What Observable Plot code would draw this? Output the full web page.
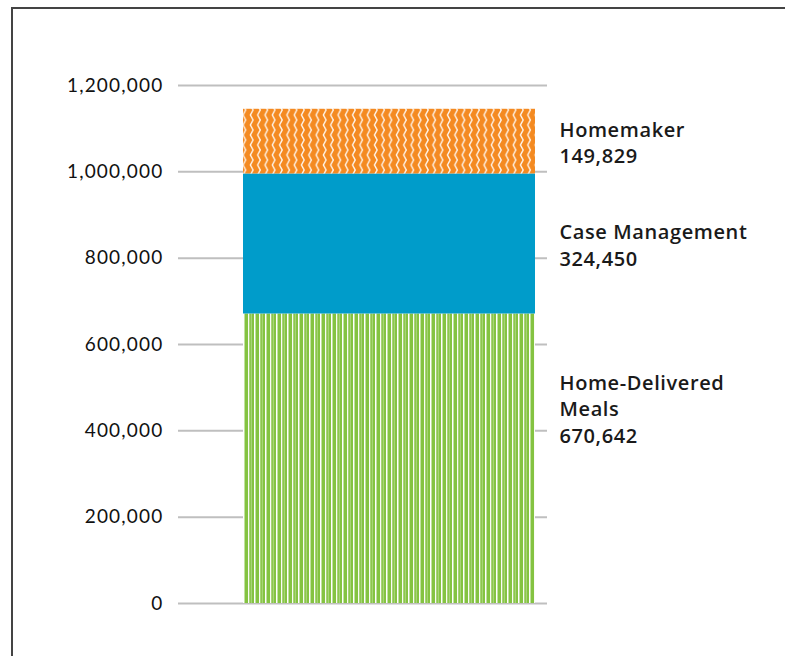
<!DOCTYPE html>
<html><head><meta charset="utf-8">
<script src="https://cdn.jsdelivr.net/npm/d3@7"></script>
<script src="https://cdn.jsdelivr.net/npm/@observablehq/plot@0.6"></script>
<style>
body{margin:0;background:#fff;}
#frame{position:absolute;left:11px;top:7px;width:800px;height:700px;border-top:2px solid #444;border-left:2px solid #444;}
#chart{position:absolute;left:0;top:0;}
.ytick text{letter-spacing:1.2px;}
.seglabel text{letter-spacing:0.6px;}
</style></head><body>
<div id="frame"></div>
<div id="chart"></div>
<script>
// ---- data ----
const categories = ["Home-Delivered Meals", "Case Management", "Homemaker"];
const labelLines = [["Home-Delivered", "Meals"], ["Case Management"], ["Homemaker"]];
const values = [670642, 324450, 149829];
const yTicks = [0, 200000, 400000, 600000, 800000, 1000000, 1200000];
const fills = ["url(#greenPat)", "#009CCA", "url(#orangePat)"];

const fmt = d3.format(",");
const data = categories.map((c, i) => ({
  group: "Total",
  category: c,
  value: values[i],
  label: [...labelLines[i], fmt(values[i])].join("\n")
}));

const textOpts = {
  x: "group", y: "value", z: "category",
  textAnchor: "start", dx: 170, lineHeight: 1.33,
  fontSize: 20, fontWeight: 600, fill: "#1a1a1a",
  fontFamily: "'Open Sans', sans-serif", className: "seglabel"
};

const svg = Plot.plot({
  width: 785, height: 656,
  marginTop: 85, marginBottom: 53, marginLeft: 178, marginRight: 238,
  style: {background: "transparent", overflow: "visible"},
  x: {domain: ["Total"], paddingInner: 0, paddingOuter: 0.1297, align: 0.842, axis: null},
  y: {domain: [0, 1200000], axis: null},
  color: {domain: categories, range: fills},
  marks: [
    Plot.ruleY(yTicks, {stroke: "#BFBFBF", strokeWidth: 2}),
    Plot.barY(data, {x: "group", y: "value", fill: "category", order: categories}),
    Plot.axisY(yTicks, {tickFormat: fmt, tickSize: 0, tickPadding: 15, fontSize: 19, fill: "#111", fontFamily: "Lato, sans-serif", label: null, className: "ytick"}),
    Plot.text(data, Plot.stackY({...textOpts, text: d => d.category === "Home-Delivered Meals" ? "" : d.label})),
    Plot.text(data, Plot.stackY({...textOpts, dy: -51, text: d => d.category === "Home-Delivered Meals" ? d.label : ""}))
  ]
});

// patterns
const defs = d3.select(svg).insert("defs", ":first-child");
const op = defs.append("pattern").attr("id", "orangePat").attr("patternUnits", "userSpaceOnUse")
  .attr("width", 7.3).attr("height", 10);
op.append("rect").attr("width", 7.3).attr("height", 10).attr("fill", "#F48A21");
op.append("polyline").attr("points", "2.2,-5 4.8,0 2.2,5 4.8,10 2.2,15")
  .attr("fill", "none").attr("stroke", "#fff").attr("stroke-opacity", 0.9).attr("stroke-width", 1.4);
const gp = defs.append("pattern").attr("id", "greenPat").attr("patternUnits", "userSpaceOnUse")
  .attr("width", 11).attr("height", 20);
gp.append("rect").attr("width", 11).attr("height", 20).attr("fill", "#84C341");
gp.append("rect").attr("x", 1).attr("width", 1.5).attr("height", 20).attr("fill", "#fff");
gp.append("rect").attr("x", 6).attr("width", 1.3).attr("height", 20).attr("fill", "#fff").attr("fill-opacity", 0.95);
gp.append("rect").attr("x", 8.8).attr("width", 1).attr("height", 20).attr("fill", "#fff").attr("fill-opacity", 0.35);

document.getElementById("chart").appendChild(svg);
</script>
</body></html>
